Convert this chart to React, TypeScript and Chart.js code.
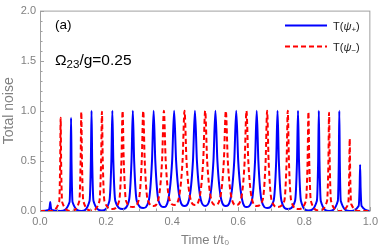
import React, { useEffect, useRef } from "react";
import { Chart, registerables } from "chart.js";

Chart.register(...registerables);

// T(psi+) : time t/t0 and total noise
const blueT = [0,
  0.0265, 0.0295, 0.031, 0.0325, 0.0355, 0.0625,
  0.0895, 0.0925, 0.094, 0.0955, 0.0985, 0.125,
  0.15, 0.154, 0.156, 0.158, 0.162, 0.1875,
  0.21, 0.216, 0.219, 0.222, 0.228, 0.25,
  0.269, 0.277, 0.281, 0.285, 0.293, 0.3125,
  0.329, 0.339, 0.344, 0.349, 0.359, 0.375,
  0.388, 0.4, 0.406, 0.412, 0.424, 0.4375,
  0.451, 0.463, 0.469, 0.475, 0.487, 0.5,
  0.513, 0.525, 0.531, 0.537, 0.549, 0.5625,
  0.576, 0.588, 0.594, 0.6, 0.612, 0.625,
  0.641, 0.651, 0.656, 0.661, 0.671, 0.6875,
  0.707, 0.715, 0.719, 0.723, 0.731, 0.75,
  0.772, 0.778, 0.781, 0.784, 0.79, 0.8125,
  0.838, 0.842, 0.844, 0.846, 0.85, 0.875,
  0.9015, 0.9045, 0.906, 0.9075, 0.9105, 0.9375,
  0.9645, 0.9675, 0.969, 0.9705, 0.9735, 1];
const blueV = [0,
  0.01, 0.045, 0.09, 0.045, 0.01, 0,
  0.09, 0.47, 0.93, 0.47, 0.09, 0,
  0.1, 0.5, 1.0, 0.5, 0.1, 0.005,
  0.1, 0.5, 1.0, 0.5, 0.1, 0.02,
  0.1, 0.5, 1.0, 0.5, 0.1, 0.03,
  0.1, 0.5, 1.0, 0.5, 0.1, 0.04,
  0.11, 0.5, 1.0, 0.5, 0.11, 0.05,
  0.11, 0.5, 1.0, 0.5, 0.11, 0.05,
  0.11, 0.5, 1.0, 0.5, 0.11, 0.05,
  0.11, 0.5, 1.0, 0.5, 0.11, 0.04,
  0.1, 0.5, 1.0, 0.5, 0.1, 0.03,
  0.1, 0.5, 1.0, 0.5, 0.1, 0.02,
  0.1, 0.5, 1.0, 0.5, 0.1, 0.005,
  0.1, 0.5, 1.0, 0.5, 0.1, 0,
  0.1, 0.5, 1.0, 0.5, 0.1, 0,
  0.05, 0.23, 0.46, 0.23, 0.05, 0];

// T(psi-) : time t/t0 and total noise
const redT = [0, 0.031,
  0.058, 0.061, 0.0625, 0.064, 0.067, 0.094,
  0.119, 0.123, 0.125, 0.127, 0.131, 0.156,
  0.18, 0.185, 0.1875, 0.19, 0.195, 0.219,
  0.2395, 0.2465, 0.25, 0.2535, 0.2605, 0.281,
  0.299, 0.308, 0.3125, 0.317, 0.326, 0.344,
  0.3585, 0.3695, 0.375, 0.3805, 0.3915, 0.406,
  0.4195, 0.4315, 0.4375, 0.4435, 0.4555, 0.469,
  0.482, 0.494, 0.5, 0.506, 0.518, 0.531,
  0.5445, 0.5565, 0.5625, 0.5685, 0.5805, 0.594,
  0.6085, 0.6195, 0.625, 0.6305, 0.6415, 0.656,
  0.674, 0.683, 0.6875, 0.692, 0.701, 0.719,
  0.7395, 0.7465, 0.75, 0.7535, 0.7605, 0.781,
  0.805, 0.81, 0.8125, 0.815, 0.82, 0.844,
  0.869, 0.873, 0.875, 0.877, 0.881, 0.906,
  0.933, 0.936, 0.9375, 0.939, 0.942, 0.969, 1];
const redV = [0, 0,
  0.09, 0.47, 0.93, 0.47, 0.09, 0,
  0.1, 0.5, 0.99, 0.5, 0.1, 0.005,
  0.1, 0.5, 0.99, 0.5, 0.1, 0.02,
  0.1, 0.5, 1.0, 0.5, 0.1, 0.04,
  0.11, 0.5, 1.0, 0.5, 0.11, 0.05,
  0.12, 0.5, 1.0, 0.5, 0.12, 0.06,
  0.12, 0.5, 1.0, 0.5, 0.12, 0.06,
  0.12, 0.5, 1.0, 0.5, 0.12, 0.06,
  0.12, 0.5, 1.0, 0.5, 0.12, 0.06,
  0.12, 0.5, 1.0, 0.5, 0.12, 0.05,
  0.11, 0.5, 1.0, 0.5, 0.11, 0.04,
  0.1, 0.5, 1.0, 0.5, 0.1, 0.02,
  0.1, 0.5, 0.99, 0.5, 0.1, 0.005,
  0.1, 0.49, 0.98, 0.49, 0.1, 0,
  0.07, 0.36, 0.72, 0.36, 0.07, 0, 0];

const seriesNames = ["T(ψ₊)", "T(ψ₋)"];
const panelLabel = "(a)";
const xTitle = "Time t/t₀";
const yTitle = "Total noise";

const FONT = "'Liberation Sans', Arial, sans-serif";

type Part = { t: string; size: number; dy?: number; italic?: boolean };

function drawRich(ctx: CanvasRenderingContext2D, parts: Part[], x: number, y: number, color: string) {
  let cx = x;
  ctx.fillStyle = color;
  ctx.textBaseline = "alphabetic";
  ctx.textAlign = "left";
  for (const p of parts) {
    ctx.font = `${p.italic ? "italic " : ""}${p.size}px ${FONT}`;
    ctx.fillText(p.t, cx, y + (p.dy || 0));
    cx += ctx.measureText(p.t).width;
  }
}

const overlay = {
  id: "overlay",
  afterDraw(chart: any) {
    const { ctx, chartArea: a, scales } = chart;
    const xs = scales.x;
    const ys = scales.y;
    ctx.save();
    // frame
    ctx.strokeStyle = "#a0a0a0";
    ctx.lineWidth = 1;
    ctx.strokeRect(a.left + 0.5, a.top + 0.5, a.right - a.left - 1, a.bottom - a.top);
    // inward ticks
    ctx.beginPath();
    for (let i = 0; i <= 20; i++) {
      const py = Math.round(ys.getPixelForValue(i / 10)) + 0.5;
      const len = i % 5 === 0 ? 4 : 2.5;
      ctx.moveTo(a.left, py);
      ctx.lineTo(a.left + len, py);
    }
    for (let i = 0; i <= 20; i++) {
      const px = Math.round(xs.getPixelForValue(i / 20)) + 0.5;
      const len = i % 4 === 0 ? 4 : 2.5;
      ctx.moveTo(px, a.bottom);
      ctx.lineTo(px, a.bottom - len);
    }
    ctx.stroke();

    // panel annotations
    drawRich(ctx, [{ t: panelLabel, size: 13.5 }], 55, 29, "#000");
    drawRich(
      ctx,
      [
        { t: "Ω", size: 15.5 },
        { t: "23", size: 11.5, dy: 3 },
        { t: "/g=0.25", size: 15.5 },
      ],
      55,
      65,
      "#000"
    );

    // legend
    const lx0 = 285, lx1 = 327;
    ctx.lineWidth = 2;
    ctx.strokeStyle = "#0000ff";
    ctx.setLineDash([]);
    ctx.beginPath();
    ctx.moveTo(lx0, 25.5);
    ctx.lineTo(lx1, 25.5);
    ctx.stroke();
    ctx.strokeStyle = "#ff0000";
    ctx.setLineDash([5, 3]);
    ctx.beginPath();
    ctx.moveTo(lx0, 46.5);
    ctx.lineTo(lx1, 46.5);
    ctx.stroke();
    ctx.setLineDash([]);
    const leg = (name: string, y: number) => {
      const sub = name.includes("₊") ? "+" : "−";
      drawRich(
        ctx,
        [
          { t: "T(", size: 11 },
          { t: "ψ", size: 11, italic: true },
          { t: sub, size: 8, dy: 2.5 },
          { t: ")", size: 11 },
        ],
        333,
        y,
        "#222"
      );
    };
    leg(seriesNames[0], 29.5);
    leg(seriesNames[1], 50.5);
    ctx.restore();
  },
};

export default function App() {
  const ref = useRef<HTMLCanvasElement | null>(null);
  useEffect(() => {
    const canvas = ref.current;
    if (!canvas) return;
    const chart = new Chart(canvas, {
      type: "line",
      data: {
        datasets: [
          {
            label: seriesNames[0],
            data: blueT.map((t, i) => ({ x: t, y: blueV[i] })),
            borderColor: "#0000ff",
            borderWidth: 2,
            pointRadius: 0,
            fill: false,
            cubicInterpolationMode: "monotone",
            order: 1,
          },
          {
            label: seriesNames[1],
            data: redT.map((t, i) => ({ x: t, y: redV[i] })),
            borderColor: "#ff0000",
            borderWidth: 2,
            borderDash: [5, 3],
            pointRadius: 0,
            fill: false,
            cubicInterpolationMode: "monotone",
            order: 0,
          },
        ],
      },
      options: {
        animation: false,
        responsive: false,
        devicePixelRatio: 1,
        layout: { padding: { left: 0, top: 5, right: 9, bottom: 0 } },
        plugins: { legend: { display: false }, tooltip: { enabled: false } },
        scales: {
          x: {
            type: "linear",
            min: 0,
            max: 1,
            grid: { display: false, drawTicks: false },
            border: { display: false },
            ticks: {
              stepSize: 0.2,
              padding: 4,
              color: "#808080",
              font: { family: FONT, size: 11 },
              maxRotation: 0,
              callback: (v: any) => Number(v).toFixed(1),
            },
            title: {
              display: true,
              text: xTitle,
              color: "#808080",
              font: { family: FONT, size: 13 },
              padding: 2,
            },
            afterFit: (s: any) => {
              s.height = 39;
            },
          },
          y: {
            type: "linear",
            min: 0,
            max: 2,
            grid: { display: false, drawTicks: false },
            border: { display: false },
            ticks: {
              stepSize: 0.5,
              padding: 4,
              color: "#808080",
              font: { family: FONT, size: 11 },
              callback: (v: any) => Number(v).toFixed(1),
            },
            title: {
              display: true,
              text: yTitle,
              color: "#808080",
              font: { family: FONT, size: 14 },
              padding: 1,
            },
            afterFit: (s: any) => {
              s.width = 40;
            },
          },
        },
      },
      plugins: [overlay],
    } as any);
    return () => chart.destroy();
  }, []);
  return (
    <div style={{ position: "absolute", left: 0, top: 0, width: 382, height: 250, background: "#fff" }}>
      <canvas ref={ref} width={382} height={250} style={{ display: "block" }} />
    </div>
  );
}
